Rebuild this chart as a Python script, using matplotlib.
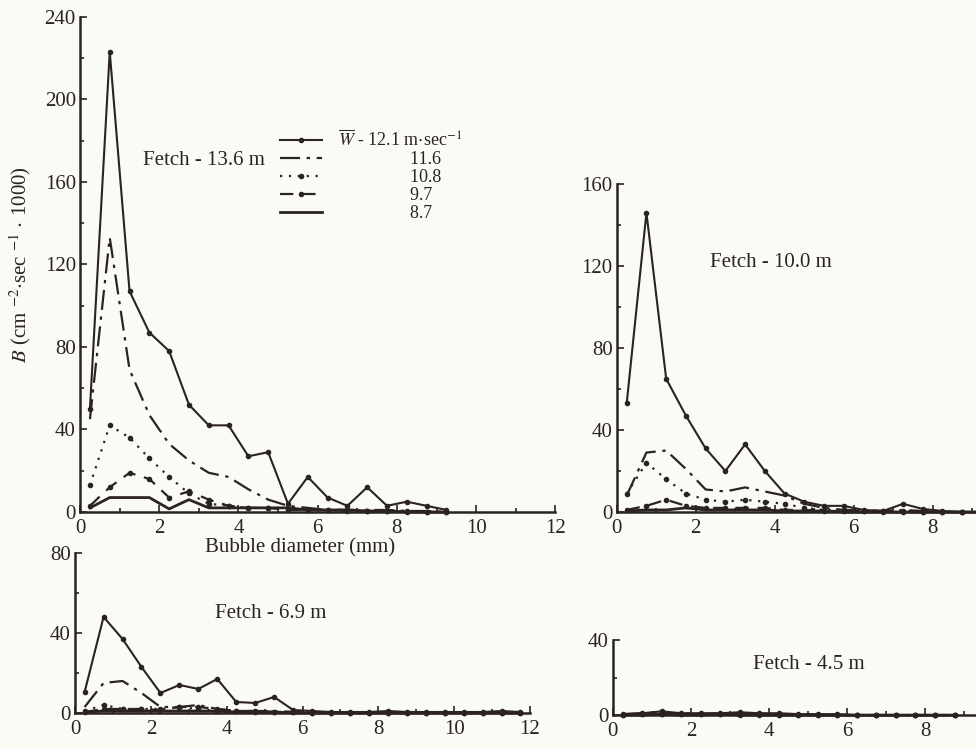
import matplotlib
matplotlib.use('Agg')
import matplotlib.pyplot as plt
from matplotlib.ticker import MultipleLocator

plt.rcParams['font.family'] = ['Liberation Serif', 'DejaVu Serif']
plt.rcParams['mathtext.fontset'] = 'stix'

# bubble diameter bin centres (mm)
d_top = [0.25, 0.75, 1.25, 1.75, 2.25, 2.75, 3.25, 3.75, 4.25, 4.75,
         5.25, 5.75, 6.25, 6.75, 7.25, 7.75, 8.25, 8.75, 9.25]
d_69 = [0.25, 0.75, 1.25, 1.75, 2.25, 2.75, 3.25, 3.75, 4.25, 4.75, 5.25, 5.75,
        6.25, 6.75, 7.25, 7.75, 8.25, 8.75, 9.25, 9.75, 10.25, 10.75, 11.25, 11.75]
d_45 = [0.25, 0.75, 1.25, 1.75, 2.25, 2.75, 3.25, 3.75, 4.25, 4.75,
        5.25, 5.75, 6.25, 6.75, 7.25, 7.75, 8.25, 8.75]

wind = ['12.1', '11.6', '10.8', '9.7', '8.7']

# fetch 13.6 m
b136_121 = [50, 223, 107, 87, 78, 52, 42, 42, 27, 29, 4, 17, 7, 3, 12, 3, 5, 3, 1]
b136_116 = [45, 133, 69, 47, 33, 25, 19, 17, 11, 6, 3, 2, 1, 1, 1, 1, 0.5, 0.5, 0]
b136_108 = [13, 42, 36, 26, 17, 9, 4, 3, 2, 2, 2, 1, 1, 1, 0.5, 0.5, 0.5, 0, 0]
b136_97 = [3, 12, 19, 16, 7, 10, 6, 3, 2, 2, 1, 1, 1, 0.5, 0.5, 0.5, 0, 0, 0]
b136_87 = [2, 7, 7, 7, 1.5, 6, 2, 2, 2, 2, 2, 1, 1, 1, 0.5, 0.5, 0, 0, 0]

# fetch 10.0 m
b100_121 = [53, 146, 65, 47, 31, 20, 33, 20, 9, 5, 3, 3, 1, 0.5, 4, 1.5, 0.5, 0, 0]
b100_116 = [8, 29, 30, 21, 11, 10, 12, 10, 8, 4, 2, 1, 1, 0.5, 1, 0.5, 0, 0, 0]
b100_108 = [9, 24, 16, 9, 6, 5, 6, 5, 4, 2, 1, 1, 0.5, 0.5, 0.5, 0, 0, 0, 0]
b100_97 = [1, 3, 6, 3, 2, 2, 2, 2, 1, 1, 0.5, 0.5, 0.5, 0, 0, 0, 0, 0, 0]
b100_87 = [0.5, 1, 1, 2, 1, 1, 1, 1, 0.5, 0.5, 0.5, 0, 0, 0, 0, 0, 0, 0, 0]

# fetch 6.9 m
b69_121 = [10.5, 48, 37, 23, 10, 14, 12, 17, 5.5, 5, 8, 1.5,
           1, 0.5, 0.5, 0.5, 1, 0.5, 0.5, 0.5, 0.5, 0.5, 1, 0.5]
b69_116 = [3, 15, 16, 10, 3, 3, 4, 2, 1, 1, 1, 0.5, 0.5, 0, 0, 0, 0, 0, 0, 0, 0, 0, 0, 0]
b69_108 = [1, 4, 2, 2, 2, 3, 2, 1, 1, 0.5, 0.5, 0.5, 0, 0, 0, 0, 0, 0, 0, 0, 0, 0, 0, 0]
b69_97 = [0.5, 2, 2, 2, 1.5, 3, 3, 2, 1, 1, 0.5, 0.5, 0, 0, 0, 0, 0, 0, 0, 0, 0, 0, 0, 0]
b69_87 = [0.5, 1, 1, 1, 1, 1, 1, 1, 0.5, 0.5, 0.5, 0, 0, 0, 0, 0, 0, 0, 0, 0, 0, 0, 0, 0]

# fetch 4.5 m
b45_121 = [0.5, 1, 2, 1, 1, 1, 1.5, 1, 1, 0.5, 0.5, 0.5, 0, 0, 0, 0, 0, 0]
b45_116 = [0.5, 1, 1, 1, 0.5, 1, 1, 0.5, 0.5, 0.5, 0, 0, 0, 0, 0, 0, 0, 0]
b45_108 = [0, 0.5, 0.5, 0.5, 0.5, 0.5, 0.5, 0.5, 0, 0, 0, 0, 0, 0, 0, 0, 0, 0]
b45_97 = [0, 0.5, 0.5, 0.5, 0.5, 0.5, 0, 0, 0, 0, 0, 0, 0, 0, 0, 0, 0, 0]
b45_87 = [0, 0, 0.5, 0, 0, 0.5, 0, 0, 0, 0, 0, 0, 0, 0, 0, 0, 0, 0]

INK = '#2b2222'
styles = [
    dict(ls='-', marker='o', ms=3, lw=1.5),
    dict(ls=(0, (9, 3, 1.5, 3)), lw=1.6),
    dict(ls=(0, (1, 3)), marker='o', ms=3, lw=1.6),
    dict(ls=(0, (6, 4)), marker='o', ms=3, lw=1.6),
    dict(ls='-', lw=2.0),
]

fig = plt.figure(figsize=(9.76, 7.48), dpi=100, facecolor='#fbfbf6')


def panel(rect, xs, series, xmax, ymax, note, note_xy):
    ax = fig.add_axes(rect)
    ax.set_facecolor('none')
    lines = []
    for ys, st in zip(series, styles):
        ln, = ax.plot(xs, ys, color=INK, clip_on=False, **st)
        lines.append(ln)
    ax.set_xlim(0, xmax)
    ax.set_ylim(0, ymax)
    for s in ['top', 'right']:
        ax.spines[s].set_visible(False)
    for s in ['left', 'bottom']:
        ax.spines[s].set_color(INK)
        ax.spines[s].set_linewidth(1.8)
    ax.xaxis.set_major_locator(MultipleLocator(2))
    ax.xaxis.set_minor_locator(MultipleLocator(1))
    ax.yaxis.set_major_locator(MultipleLocator(40))
    ax.yaxis.set_minor_locator(MultipleLocator(20))
    ax.tick_params(which='both', direction='in', color=INK, labelcolor=INK,
                   labelsize=15, width=1.2)
    ax.tick_params(axis='x', pad=5)
    ax.tick_params(axis='y', pad=3)
    ax.tick_params(which='major', length=5)
    ax.tick_params(which='minor', length=3)
    ax.text(note_xy[0], note_xy[1], note, transform=ax.transAxes, fontsize=15,
            color=INK, ha='center', va='center')
    return ax, lines


ax1, lines = panel([0.082, 0.3155, 0.487, 0.662], d_top,
                   [b136_121, b136_116, b136_108, b136_97, b136_87],
                   12, 240, 'Fetch - 13.6 m', (0.26, 0.71))
panel([0.632, 0.3155, 0.368, 0.4385], d_top,
      [b100_121, b100_116, b100_108, b100_97, b100_87],
      9.1, 160, 'Fetch - 10.0 m', (0.43, 0.76))
panel([0.077, 0.0468, 0.466, 0.214], d_69,
      [b69_121, b69_116, b69_108, b69_97, b69_87],
      12, 80, 'Fetch - 6.9 m', (0.43, 0.62))
panel([0.628, 0.044, 0.372, 0.1003], d_45,
      [b45_121, b45_116, b45_108, b45_97, b45_87],
      9.3, 40, 'Fetch - 4.5 m', (0.54, 0.67))

labels = [r'$\overline{W}$ - ' + wind[0] + r' m$\cdot$sec$^{-1}$'] + \
         ['                ' + w for w in wind[1:]]
fig.legend(lines, labels, loc='upper left', bbox_to_anchor=(0.287, 1 - 130 / 748),
           frameon=False, fontsize=13, handlelength=2.3, labelspacing=0.05,
           handletextpad=0.9, borderpad=0, borderaxespad=0, labelcolor=INK)

fig.text(300 / 976, 1 - 548 / 748, 'Bubble diameter (mm)', ha='center', va='center',
         fontsize=15, color=INK)
fig.text(20 / 976, 1 - 265 / 748, r'$B$ (cm $^{-2}$$\cdot$sec $^{-1}$ $\cdot$ 1000)',
         rotation=90, ha='center', va='center', fontsize=15, color=INK)

fig.savefig('out.png', dpi=100, facecolor=fig.get_facecolor())
